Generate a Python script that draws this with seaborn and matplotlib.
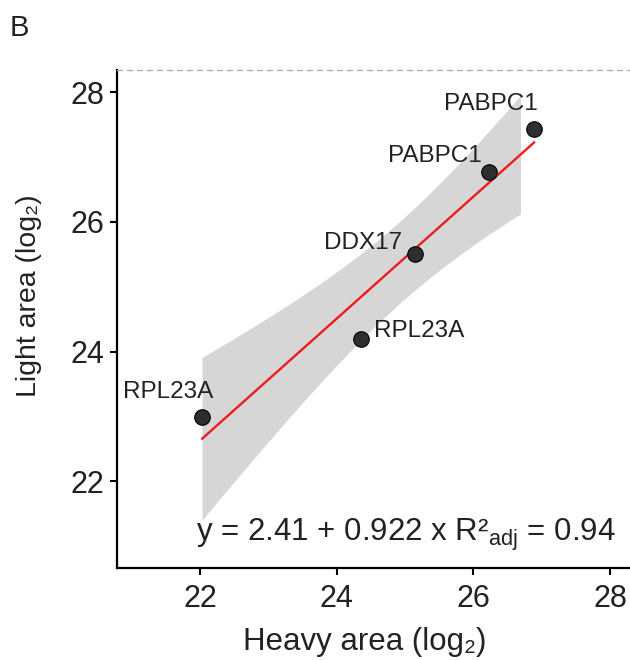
import numpy as np
import pandas as pd
import matplotlib
matplotlib.use("Agg")
import matplotlib.pyplot as plt
import seaborn as sns
from matplotlib.patches import Rectangle

# data
proteins = ["RPL23A", "RPL23A", "DDX17", "PABPC1", "PABPC1"]
heavy = [22.03, 24.35, 25.14, 26.23, 26.89]
light = [22.99, 24.20, 25.51, 26.77, 27.43]
x_ticks = [22, 24, 26, 28]
y_ticks = [22, 24, 26, 28]
equation = "y = 2.41 + 0.922 x R²${}_{\\mathrm{adj}}$ = 0.94"

df = pd.DataFrame({"protein": proteins, "heavy": heavy, "light": light})

sns.set_theme(style="white")
plt.rcParams["font.family"] = ["Liberation Sans", "DejaVu Sans"]
plt.rcParams["mathtext.fontset"] = "custom"
plt.rcParams["mathtext.rm"] = "Liberation Sans"
plt.rcParams["mathtext.it"] = "Liberation Sans:italic"

fig = plt.figure(figsize=(6.3, 6.6), dpi=100)
ax = fig.add_axes([0.186, 0.139, 0.814, 0.755])

# analytic (t-based) 95% confidence band of the linear fit, like geom_smooth
xa = np.asarray(heavy); ya = np.asarray(light); n = len(xa)
b1, b0 = np.polyfit(xa, ya, 1)
resid = ya - (b0 + b1 * xa)
s = np.sqrt(np.sum(resid ** 2) / (n - 2))
sxx = np.sum((xa - xa.mean()) ** 2)
tcrit = 3.182  # t(0.975, df=3)
grid = np.linspace(xa.min(), xa.max(), 200)
fit = b0 + b1 * grid
half = tcrit * s * np.sqrt(1 / n + (grid - xa.mean()) ** 2 / sxx)
band = ax.fill_between(grid, fit - half, fit + half, color="#d6d6d6", lw=0, zorder=1)
band.set_clip_path(Rectangle((xa.min(), 15), 26.68 - xa.min(), 20, transform=ax.transData))

sns.regplot(data=df, x="heavy", y="light", ax=ax, scatter=False, ci=None,
            line_kws=dict(color="#EE1C1C", lw=1.7, zorder=2))

sns.scatterplot(data=df, x="heavy", y="light", ax=ax, s=125, color="#2e2e2e",
                edgecolor="black", linewidth=0.8, zorder=5)

offsets = [(-34, 25), (59, 8), (-52, 11), (-54, 16), (-43, 25)]
for (_, r), off in zip(df.iterrows(), offsets):
    ax.annotate(r["protein"], (r["heavy"], r["light"]), xytext=off,
                textcoords="offset pixels", ha="center", va="center",
                fontsize=17.5, color="#222222")

ax.text(0.563, 0.066, equation, transform=ax.transAxes, ha="center", va="center",
        fontsize=22.5, color="#222222")

ax.set_xlim(20.79, 28.29)
ax.set_ylim(20.66, 28.34)
ax.set_xticks(x_ticks)
ax.set_yticks(y_ticks)
ax.tick_params(axis="both", which="both", direction="out", length=5, width=1.5,
               color="black", labelsize=22, labelcolor="#222222",
               bottom=True, left=True)
ax.tick_params(axis="x", pad=6)
ax.tick_params(axis="y", pad=4)
ax.set_xlabel("Heavy area (log₂)", fontsize=22.5, color="#222222")
ax.set_ylabel("Light area (log₂)", fontsize=20.5, color="#222222")
ax.xaxis.set_label_coords(0.482, -0.118)
ax.yaxis.set_label_coords(-0.146, 0.548)

for sp in ["left", "bottom"]:
    ax.spines[sp].set_color("black")
    ax.spines[sp].set_linewidth(1.6)
ax.spines["right"].set_visible(False)
ax.spines["top"].set_color("#aaaaaa")
ax.spines["top"].set_linewidth(0.9)
ax.spines["top"].set_linestyle((0, (4, 4)))

fig.text(0.016, 0.958, "B", fontsize=21, color="#222222", ha="left", va="center")

fig.savefig("out.png", dpi=100)
